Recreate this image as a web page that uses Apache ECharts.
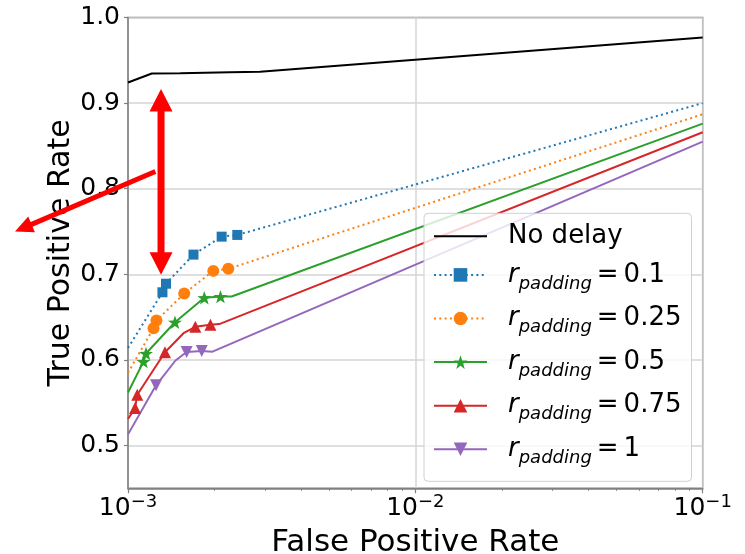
<!DOCTYPE html>
<html>
<head>
<meta charset="utf-8">
<script src="https://cdn.jsdelivr.net/npm/echarts@6.0.0/dist/echarts.min.js"></script>
<style>
  html, body { margin: 0; padding: 0; background: #fff; }
  #roc_chart { width: 745px; height: 554px; }
</style>
</head>
<body>
<div id="roc_chart"></div>
<script>
const FONT = 'DejaVu Sans';

// axis ticks
const xMajor = [0.001, 0.01, 0.1];
const xMinor = [0.002, 0.003, 0.004, 0.005, 0.006, 0.007, 0.008, 0.009,
                0.02, 0.03, 0.04, 0.05, 0.06, 0.07, 0.08, 0.09];
const yTicks = [0.5, 0.6, 0.7, 0.8, 0.9, 1.0];

// No delay
const noDelayX = [0.001, 0.00121, 0.00152, 0.00226, 0.00288, 0.1];
const noDelayY = [0.924, 0.9346, 0.935, 0.936, 0.9366, 0.9766];

// r_padding = 0.1
const pad01X = [0.001, 0.001318, 0.001356, 0.00169, 0.002118, 0.002401, 0.1];
const pad01Y = [0.614, 0.679, 0.689, 0.723, 0.744, 0.746, 0.900];
const pad01Mark = [0, 1, 1, 1, 1, 1, 0];

// r_padding = 0.25
const pad025X = [0.001, 0.001227, 0.001256, 0.001569, 0.001981, 0.002234, 0.1];
const pad025Y = [0.585, 0.637, 0.646, 0.6775, 0.704, 0.7064, 0.887];
const pad025Mark = [0, 1, 1, 1, 1, 1, 0];

// r_padding = 0.5
const pad05X = [0.001, 0.001132, 0.001155, 0.001457, 0.001843, 0.002098, 0.002295, 0.1];
const pad05Y = [0.562, 0.598, 0.6075, 0.644, 0.6726, 0.674, 0.674, 0.876];
const pad05Mark = [0, 1, 1, 1, 1, 1, 0, 0];

// r_padding = 0.75
const pad075X = [0.001, 0.001058, 0.001077, 0.001345, 0.001566, 0.001715, 0.001936, 0.002078, 0.1];
const pad075Y = [0.531, 0.5437, 0.5592, 0.609, 0.6317, 0.6387, 0.641, 0.6418, 0.866];
const pad075Mark = [0, 1, 1, 1, 0, 1, 1, 0, 0];

// r_padding = 1
const pad1X = [0.001, 0.001252, 0.001463, 0.0016, 0.001806, 0.001968, 0.1];
const pad1Y = [0.513, 0.5703, 0.5993, 0.6092, 0.6104, 0.6096, 0.855];
const pad1Mark = [0, 1, 0, 1, 1, 0, 0];

// red annotation arrows, in data units: [tail, tip]
const arrowVert = [[0.001303, 0.9164], [0.001303, 0.6994]];
const arrowDiag = [[0.001245, 0.8201], [0.0004044, 0.750]];

function buildData(xs, ys, marks) {
  return xs.map((x, i) => (marks && !marks[i]) ? {value: [x, ys[i]], symbol: 'none'} : [x, ys[i]]);
}

function starPath() {
  let d = '';
  for (let i = 0; i < 10; i++) {
    const r = i % 2 === 0 ? 50 : 20;
    const a = i * Math.PI / 5;
    const x = 50 + r * Math.sin(a), y = 50 - r * Math.cos(a);
    d += (i === 0 ? 'M' : 'L') + x.toFixed(2) + ',' + y.toFixed(2);
  }
  return 'path://' + d + 'Z';
}

const DOTTED = [2, 3.3];

function lineSeries(name, data, color, dashed, symbol, size) {
  return {
    name: name,
    type: 'line',
    data: data,
    symbol: symbol,
    symbolSize: size,
    symbolKeepAspect: true,
    showSymbol: true,
    clip: true,
    lineStyle: {color: color, width: 2, type: dashed ? DOTTED : 'solid'},
    itemStyle: {color: color},
    emphasis: {disabled: true}
  };
}

const chart = echarts.init(document.getElementById('roc_chart'));

const seriesNames = ['No delay', 'r_padding = 0.1', 'r_padding = 0.25', 'r_padding = 0.5',
                     'r_padding = 0.75', 'r_padding = 1'];

const option = {
  animation: false,
  backgroundColor: '#fff',
  textStyle: {fontFamily: FONT},
  grid: {
    left: 128, right: 42.3, top: 17.5, bottom: 65.7,
    outerBoundsMode: 'none',
    show: true, borderColor: '#808080', borderWidth: 1.5, backgroundColor: 'transparent'
  },
  legend: {
    orient: 'vertical',
    left: 424,
    top: 213.3,
    padding: [10, 10, 14, 9],
    itemWidth: 53,
    itemHeight: 17,
    itemGap: 12.6,
    backgroundColor: 'rgba(255,255,255,0.8)',
    borderColor: '#d0d0d0',
    borderWidth: 1,
    borderRadius: 4,
    selectedMode: false,
    data: seriesNames.map((n, i) => i === 0 ? {name: n, itemStyle: {opacity: 0}} : {name: n}),
    formatter: (name) => {
      if (name.indexOf('r_padding') === 0) {
        return '{rsym|r}{rsub|padding}{reqn|=}{rval|' + name.split('= ')[1] + '}';
      }
      return '{plain|' + name + '}';
    },
    textStyle: {
      color: '#000',
      fontFamily: FONT,
      fontSize: 26,
      rich: {
        plain: {fontSize: 26, lineHeight: 36, fontFamily: FONT, color: '#000', padding: [0, 0, 0, 16]},
        rsym: {fontSize: 26, lineHeight: 36, fontFamily: FONT, fontStyle: 'italic', color: '#000', padding: [0, 0, 0, 16]},
        rsub: {fontSize: 18, lineHeight: 17, fontFamily: FONT, fontStyle: 'italic', color: '#000', verticalAlign: 'bottom'},
        reqn: {fontSize: 26, lineHeight: 36, fontFamily: FONT, color: '#000', padding: [0, 5, 0, 5]},
        rval: {fontSize: 26, lineHeight: 36, fontFamily: FONT, color: '#000'}
      }
    }
  },
  xAxis: [
    {
      type: 'log',
      logBase: 10,
      min: 0.001,
      max: 0.1,
      name: 'False Positive Rate',
      nameLocation: 'middle',
      nameGap: 39.5,
      nameMoveOverlap: false,
      nameTextStyle: {fontSize: 31, color: '#000', fontFamily: FONT},
      axisLine: {show: true, onZero: false, lineStyle: {color: '#808080', width: 1.5}},
      axisTick: {show: true, customValues: xMajor, length: 5, lineStyle: {color: '#808080', width: 1.2}},
      axisLabel: {
        customValues: xMajor,
        margin: 5,
        color: '#000',
        formatter: (v) => '{base|10}{sup|\u2212' + Math.round(-Math.log10(v)) + '}',
        rich: {
          base: {fontSize: 25, lineHeight: 30, color: '#000', fontFamily: FONT},
          sup: {fontSize: 18, lineHeight: 16, color: '#000', fontFamily: FONT, verticalAlign: 'top'}
        }
      },
      splitLine: {show: true, lineStyle: {color: '#d5d5d5', width: 1.5}}
    },
    {
      type: 'log',
      logBase: 10,
      min: 0.001,
      max: 0.1,
      position: 'bottom',
      axisLine: {show: false, onZero: false},
      axisTick: {show: true, customValues: xMinor, length: 2.5, lineStyle: {color: '#808080', width: 1}},
      axisLabel: {show: false},
      splitLine: {show: false}
    }
  ],
  yAxis: {
    type: 'value',
    min: 0.45,
    max: 1.0,
    name: 'True Positive Rate',
    nameLocation: 'middle',
    nameGap: 52,
    nameMoveOverlap: false,
    nameTextStyle: {fontSize: 30, color: '#000', fontFamily: FONT},
    axisLine: {show: true, onZero: false, lineStyle: {color: '#808080', width: 1.5}},
    axisTick: {show: true, customValues: yTicks, length: 4, lineStyle: {color: '#808080', width: 1.2}},
    axisLabel: {
      customValues: yTicks,
      margin: 8,
      fontSize: 25,
      color: '#000',
      fontFamily: FONT,
      formatter: (v) => v.toFixed(1)
    },
    splitLine: {show: true, lineStyle: {color: '#d5d5d5', width: 1.5}}
  },
  series: [
    lineSeries(seriesNames[0], buildData(noDelayX, noDelayY), '#000000', false, 'none', 0),
    lineSeries(seriesNames[1], buildData(pad01X, pad01Y, pad01Mark), '#1f77b4', true, 'rect', 10),
    lineSeries(seriesNames[2], buildData(pad025X, pad025Y, pad025Mark), '#ff7f0e', true, 'circle', 12),
    lineSeries(seriesNames[3], buildData(pad05X, pad05Y, pad05Mark), '#2ca02c', false, starPath(), 14),
    lineSeries(seriesNames[4], buildData(pad075X, pad075Y, pad075Mark), '#d62728', false, 'triangle', 12),
    lineSeries(seriesNames[5], buildData(pad1X, pad1Y, pad1Mark), '#9467bd', false, 'path://M0,0L100,0L50,100Z', 12)
  ]
};

chart.setOption(option);

// arrows: endpoints go through the axes, shape sizes are in pixels
function arrowPoints(tail, tip, shaftW, headL, headW, both) {
  const dx = tip[0] - tail[0], dy = tip[1] - tail[1];
  const len = Math.hypot(dx, dy);
  const ux = dx / len, uy = dy / len, nx = -uy, ny = ux;
  const at = (p, along, side) => [p[0] + ux * along + nx * side, p[1] + uy * along + ny * side];
  let pts = [];
  if (both) {
    pts.push(tail, at(tail, headL, headW / 2), at(tail, headL, shaftW / 2));
  } else {
    pts.push(at(tail, 0, shaftW / 2));
  }
  pts.push(at(tip, -headL, shaftW / 2), at(tip, -headL, headW / 2), tip,
           at(tip, -headL, -headW / 2), at(tip, -headL, -shaftW / 2));
  if (both) {
    pts.push(at(tail, headL, -shaftW / 2), at(tail, headL, -headW / 2));
  } else {
    pts.push(at(tail, 0, -shaftW / 2));
  }
  return pts;
}

const toPx = (p) => chart.convertToPixel({seriesIndex: 0}, p);

chart.setOption({
  graphic: [
    {
      type: 'polygon', z: 100, silent: true,
      shape: {points: arrowPoints(toPx(arrowVert[0]), toPx(arrowVert[1]), 7, 22.5, 23, true)},
      style: {fill: '#ff0000'}
    },
    {
      type: 'polygon', z: 100, silent: true,
      shape: {points: arrowPoints(toPx(arrowDiag[0]), toPx(arrowDiag[1]), 5, 18, 17, false)},
      style: {fill: '#ff0000'}
    }
  ]
});
</script>
</body>
</html>
